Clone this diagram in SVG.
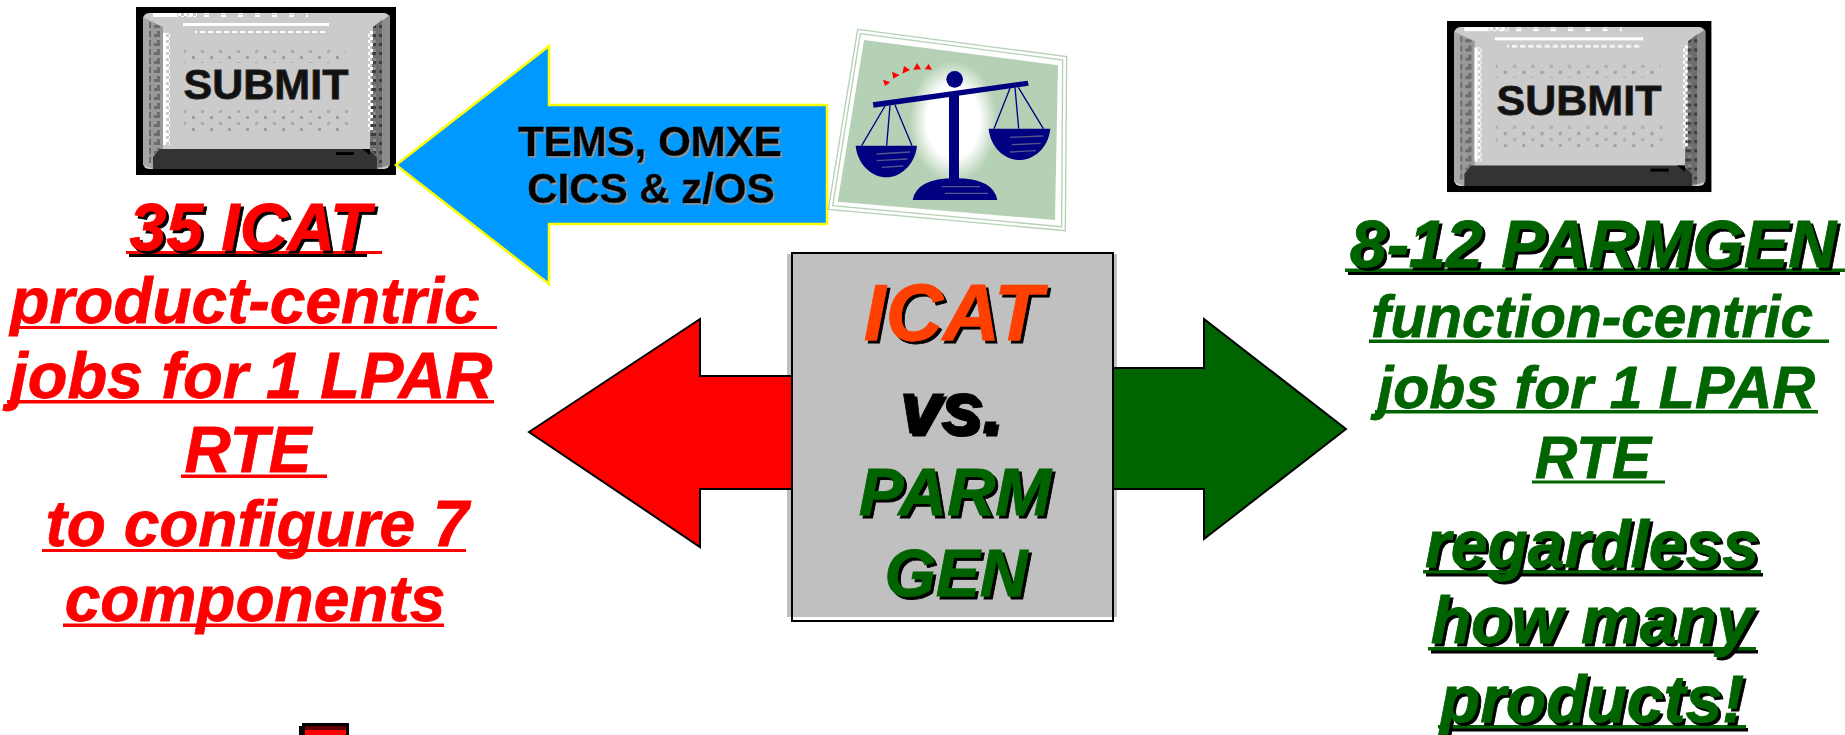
<svg xmlns="http://www.w3.org/2000/svg" xmlns:xlink="http://www.w3.org/1999/xlink" width="1845" height="735" viewBox="0 0 1845 735">
<style>
text{font-family:"Liberation Sans",Arial,sans-serif;font-weight:bold}
.i{font-style:italic;stroke-width:.8}
.s{filter:url(#sh)}
.r{fill:#f00;stroke:#f00}
.g{fill:#006400;stroke:#006400}
.m{text-anchor:middle}
.b{font-size:64px}
.gl{font-size:58.5px}
.sub{font-size:43px;fill:#111;stroke:#222;stroke-width:.8;text-anchor:middle}
.lab{font-size:42px;fill:#000;stroke:#000;stroke-width:.5;text-anchor:middle;filter:url(#shg)}
.nav{fill:#000080}
.str{stroke:#000080;stroke-width:4;fill:none}
.st{stroke:#55558f;stroke-width:4;fill:none}
.fr{fill:none;stroke:#b5d1b5;stroke-width:4}
</style>
<defs>
<filter id="sh" x="-5%" y="-10%" width="110%" height="125%"><feDropShadow dx="3" dy="3" stdDeviation="0" flood-color="#000"/></filter>
<filter id="shg" x="-5%" y="-10%" width="110%" height="125%"><feDropShadow dx="1.5" dy="1.5" stdDeviation="0" flood-color="#999"/></filter>
<radialGradient id="glow"><stop offset="0.6" stop-color="#fff"/><stop offset="1" stop-color="#b5d1b5"/></radialGradient>
<pattern id="st" width="18" height="12" patternUnits="userSpaceOnUse"><rect x="2" y="1" width="3" height="3" fill="#a0a0a0"/><rect x="11" y="7" width="3" height="3" fill="#aaa"/></pattern>
<pattern id="wd" width="6" height="6" patternUnits="userSpaceOnUse"><rect width="3" height="3" fill="#fff"/><rect x="3" y="3" width="3" height="3" fill="#fff"/></pattern>
<pattern id="wda" width="17" height="4" patternUnits="userSpaceOnUse"><rect width="5" height="3" fill="#fff"/></pattern>
<pattern id="wdb" width="8" height="4" patternUnits="userSpaceOnUse"><rect width="5" height="3" fill="#fff"/></pattern>
<pattern id="dl" width="9" height="9" patternUnits="userSpaceOnUse"><rect width="9" height="9" fill="#999"/><rect width="6" height="3" fill="#6c6c6c"/><rect x="3" y="6" width="3" height="3" fill="#6c6c6c"/></pattern>
<pattern id="dr" width="9" height="9" patternUnits="userSpaceOnUse"><rect width="9" height="9" fill="#6e6e6e"/><rect width="6" height="3" fill="#3e3e3e"/><rect x="3" y="6" width="3" height="3" fill="#8a8a8a"/></pattern>
<g id="key">
<rect width="260" height="168" fill="#000"/>
<rect x="7" y="6" width="247" height="156" rx="6" fill="#cbcbcb"/>
<polygon points="7,10 27,20 27,142 17,150 17,162 7,158" fill="#a6a6a6"/>
<polygon points="13,14 27,20 27,142 17,150 17,156 13,156" fill="url(#dl)"/>
<polygon points="237,20 254,8 254,158 241,162 241,150 234,142" fill="#8c8c8c"/>
<polygon points="237,20 246,13 246,160 241,160 241,150 234,142" fill="url(#dr)"/>
<polygon points="24,142 233,142 241,150 241,162 17,162 17,150" fill="#333"/>
<rect x="17" y="6" width="24" height="4" fill="#fff"/>
<rect x="41" y="6" width="20" height="4" fill="url(#wd)"/>
<rect x="52" y="6" width="120" height="4" fill="url(#wda)"/>
<rect x="47" y="16" width="146" height="3" fill="#fff"/>
<rect x="59" y="23" width="132" height="3" fill="url(#wdb)"/>
<rect x="27" y="26" width="3" height="112" fill="#fff"/>
<rect x="30" y="26" width="4" height="112" fill="url(#wd)"/>
<rect x="232" y="24" width="5" height="100" fill="url(#wd)"/>
<rect x="48" y="40" width="162" height="16" fill="url(#st)"/>
<rect x="48" y="100" width="168" height="24" fill="url(#st)"/>
<rect x="200" y="145" width="18" height="3" fill="#000"/>
<polygon points="226,142 234,142 234,148" fill="#000"/>
</g>
</defs>
<rect width="1845" height="735" fill="#fff"/>
<g id="submit-left"><use href="#key" x="136" y="7"/><text class="sub" x="266" y="99">SUBMIT</text></g>
<g id="submit-right"><use href="#key" transform="translate(1447 21) scale(1.017 1.018)"/><text class="sub" x="1579" y="115">SUBMIT</text></g>
<g id="connectors">
<polygon id="arrow-blue" points="396,165 549,46 549,105 827,105 827,224 549,224 549,284" fill="#0099ff" stroke="#ffff00" stroke-width="2.5"/>
<rect id="box-shade" x="787" y="254" width="330" height="363" fill="#c0c0c0"/>
<polygon id="arrow-red" points="529,432 700,319 700,376 792,376 792,489 700,489 700,547" fill="#f00" stroke="#000" stroke-width="2"/>
<polygon id="arrow-green" points="1346,429 1204,319 1204,368 1113,368 1113,489 1204,489 1204,539" fill="#006400" stroke="#000" stroke-width="2"/>
</g>
<g id="scales" transform="translate(780 0) scale(.33333)">
<polygon class="fr" points="233,88 860,170 856,692 145,628"/>
<polygon class="fr" points="241,101 848,180 845,680 158,617"/>
<polygon points="252,120 834,196 825,660 173,605" fill="#b5d1b5"/>
<ellipse cx="520" cy="365" rx="132" ry="182" fill="url(#glow)"/>
<polygon class="nav" points="278,307 743,242 746,257 281,323"/>
<circle class="nav" cx="524" cy="238" r="25"/>
<rect class="nav" x="507" y="285" width="30" height="260"/>
<path class="nav" d="M398,600 Q410,535 525,535 Q640,535 652,600 Z"/>
<path class="nav" d="M227,437 H411 C405,495 360,532 319,532 C278,532 232,495 227,437 Z"/>
<path class="nav" d="M626,386 H811 C805,445 760,480 718,480 C676,480 632,445 626,386 Z"/>
<path class="str" d="M315,318 245,437 M330,316 320,437 M345,315 396,437 M690,265 642,386 M705,262 716,386 M715,262 790,386"/>
<path class="st" d="M290,462 390,456 M290,482 382,477 M305,502 370,498 M690,412 790,408 M695,434 782,430 M690,456 768,452 M485,560 600,560 M495,580 625,580"/>
<g fill="#f00"><polygon points="309,239 331,247 315,258"/><polygon points="336,215 359,225 340,236"/><polygon points="372,198 390,210 367,221"/><polygon points="411,189 423,208 400,209"/><polygon points="446,192 456,209 434,208"/></g>
</g>
<g id="center-box">
<rect x="792" y="253" width="321" height="368" fill="none" stroke="#000" stroke-width="2"/>
<text class="i s m" x="953" y="340" font-size="79" fill="#ff4000" stroke="#ff4000">ICAT</text>
<text class="i s m" x="951" y="433" font-size="74" fill="#000" stroke="#000">vs.</text>
<text class="i s m g" x="955" y="515" font-size="67">PARM</text>
<text class="i s m g" x="956" y="596" font-size="66">GEN</text>
</g>
<g id="blue-label">
<text class="lab" x="650" y="156">TEMS, OMXE</text>
<text class="lab" x="651" y="203">CICS &amp; z/OS</text>
</g>
<g id="icat-text">
<rect x="129" y="254" width="238" height="3" fill="#000"/><rect x="126" y="251" width="256" height="3" fill="#f00"/>
<text class="i s m r" font-size="66" x="250" y="250">35 ICAT</text>
<text class="i m r b" x="245" y="323">product-centric</text><rect x="10" y="326" width="487" height="3" fill="#f00"/>
<text class="i m r" font-size="65" x="251" y="398">jobs for 1 LPAR</text><rect x="7" y="400" width="487" height="3.5" fill="#f00"/>
<text class="i m r b" x="248" y="472">RTE</text><rect x="181" y="474.5" width="146" height="3.5" fill="#f00"/>
<text class="i m r b" x="257" y="546">to configure 7</text><rect x="42" y="549" width="424" height="3" fill="#f00"/>
<text class="i m r b" x="255" y="621">components</text><rect x="63" y="623.5" width="381" height="3.5" fill="#f00"/>
</g>
<g id="parmgen-text">
<rect x="1348" y="272" width="492" height="3" fill="#000"/><rect x="1345" y="268.5" width="500" height="3.5" fill="#006400"/>
<text class="i s m g" x="1593" y="267" font-size="66.5">8-12 PARMGEN</text>
<text class="i m g gl" x="1592" y="337">function-centric</text><rect x="1369" y="339.5" width="460" height="3.5" fill="#006400"/>
<text class="i m g" font-size="59" x="1596" y="408">jobs for 1 LPAR</text><rect x="1375" y="410" width="443" height="3.5" fill="#006400"/>
<text class="i m g gl" x="1593" y="478">RTE</text><rect x="1532" y="480.5" width="133" height="3" fill="#006400"/>
<rect x="1426" y="573" width="337" height="3.5" fill="#000"/><rect x="1423" y="570" width="338" height="3.5" fill="#006400"/>
<text class="i s m g" x="1592" y="567" font-size="66">regardless</text>
<rect x="1431" y="650" width="327" height="3.5" fill="#000"/><rect x="1428" y="647" width="328" height="3.5" fill="#006400"/>
<text class="i s m g" x="1592" y="643" font-size="66">how many</text>
<rect x="1441" y="728" width="307" height="3.5" fill="#000"/><rect x="1438" y="725" width="308" height="3.5" fill="#006400"/>
<text class="i s m g" x="1592" y="722" font-size="66">products!</text>
</g>
<g id="clipped-icon">
<path d="M299,735 V726 H302 V723 H349 V735 Z" fill="#000"/>
<rect x="305" y="726" width="41" height="4" fill="#600"/>
<rect x="305" y="730" width="41" height="5" fill="#f00"/>
</g>
</svg>
